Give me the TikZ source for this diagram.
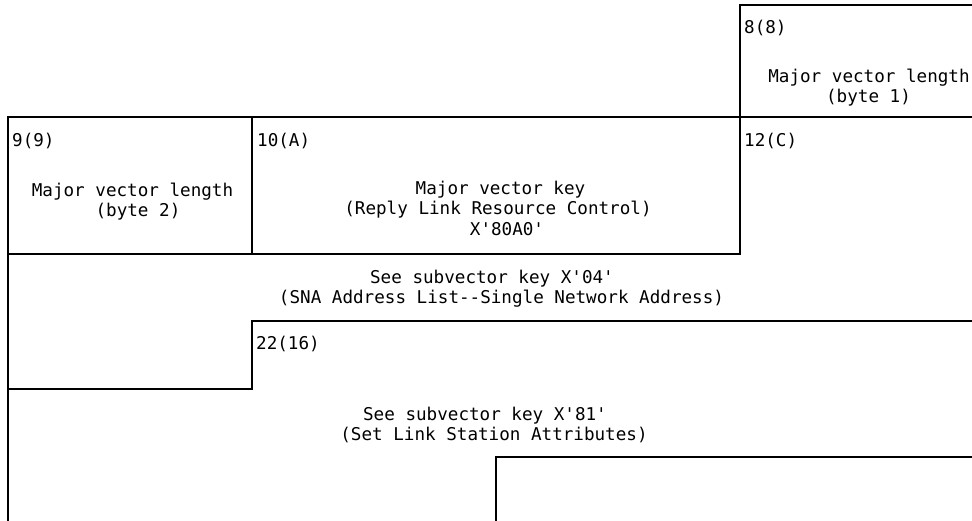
\documentclass[tikz,border=0pt]{standalone}
\usepackage{fontspec}
\setmonofont{DejaVu Sans Mono}
\begin{document}
\begin{tikzpicture}[x=1pt,y=-1pt,
  rule/.style={line width=1.3pt, line cap=rect},
  txt/.style={inner sep=0pt, anchor=base, font=\fontsize{17.6}{20}\selectfont\ttfamily},
  lbl/.style={txt, anchor=base west}]
\useasboundingbox (0,0) rectangle (972,521);
% corner coordinates
\coordinate (a1) at (740,5);
\coordinate (a2) at (972,5);
\coordinate (b0) at (8,117);
\coordinate (b1) at (252,117);
\coordinate (b2) at (740,117);
\coordinate (b3) at (972,117);
\coordinate (c0) at (8,254);
\coordinate (c1) at (252,254);
\coordinate (c2) at (740,254);
\coordinate (d1) at (252,321);
\coordinate (d2) at (972,321);
\coordinate (e0) at (8,389);
\coordinate (e1) at (252,389);
\coordinate (f1) at (496,457);
\coordinate (f2) at (972,457);
\coordinate (f3) at (496,521);
\coordinate (g0) at (8,521);
% rules
\draw[rule] (a2) -- (a1) -- (b2);
\draw[rule] (b0) -- (b3);
\draw[rule] (b0) -- (g0);
\draw[rule] (b1) -- (c1);
\draw[rule] (b2) -- (c2);
\draw[rule] (c0) -- (c2);
\draw[rule] (d2) -- (d1) -- (e1) -- (e0);
\draw[rule] (f2) -- (f1) -- (f3);
% field offsets
\node[lbl] (o8) at (744,34) {8(8)};
\node[lbl] (o9) at (12,147) {9(9)};
\node[lbl] (oA) at (257,147) {10(A)};
\node[lbl] (oC) at (744,147) {12(C)};
\node[lbl] (o16) at (256,349) {22(16)};
% field texts
\node[txt] (t8a) at (869,83) {Major vector length};
\node[txt] (t8b) at (868.5,103) {(byte 1)};
\node[txt] (t9a) at (132.5,196.5) {Major vector length};
\node[txt] (t9b) at (138,216.5) {(byte 2)};
\node[txt] (tAa) at (500.5,195) {Major vector key};
\node[txt] (tAb) at (498,215) {(Reply Link Resource Control)};
\node[txt] (tAc) at (507,235.5) {X'80A0'};
\node[txt] (tDa) at (492,284) {See subvector key X'04'};
\node[txt] (tDb) at (501.5,304) {(SNA Address List--Single Network Address)};
\node[txt] (tEa) at (485,420) {See subvector key X'81'};
\node[txt] (tEb) at (494,440) {(Set Link Station Attributes)};
\end{tikzpicture}
\end{document}
